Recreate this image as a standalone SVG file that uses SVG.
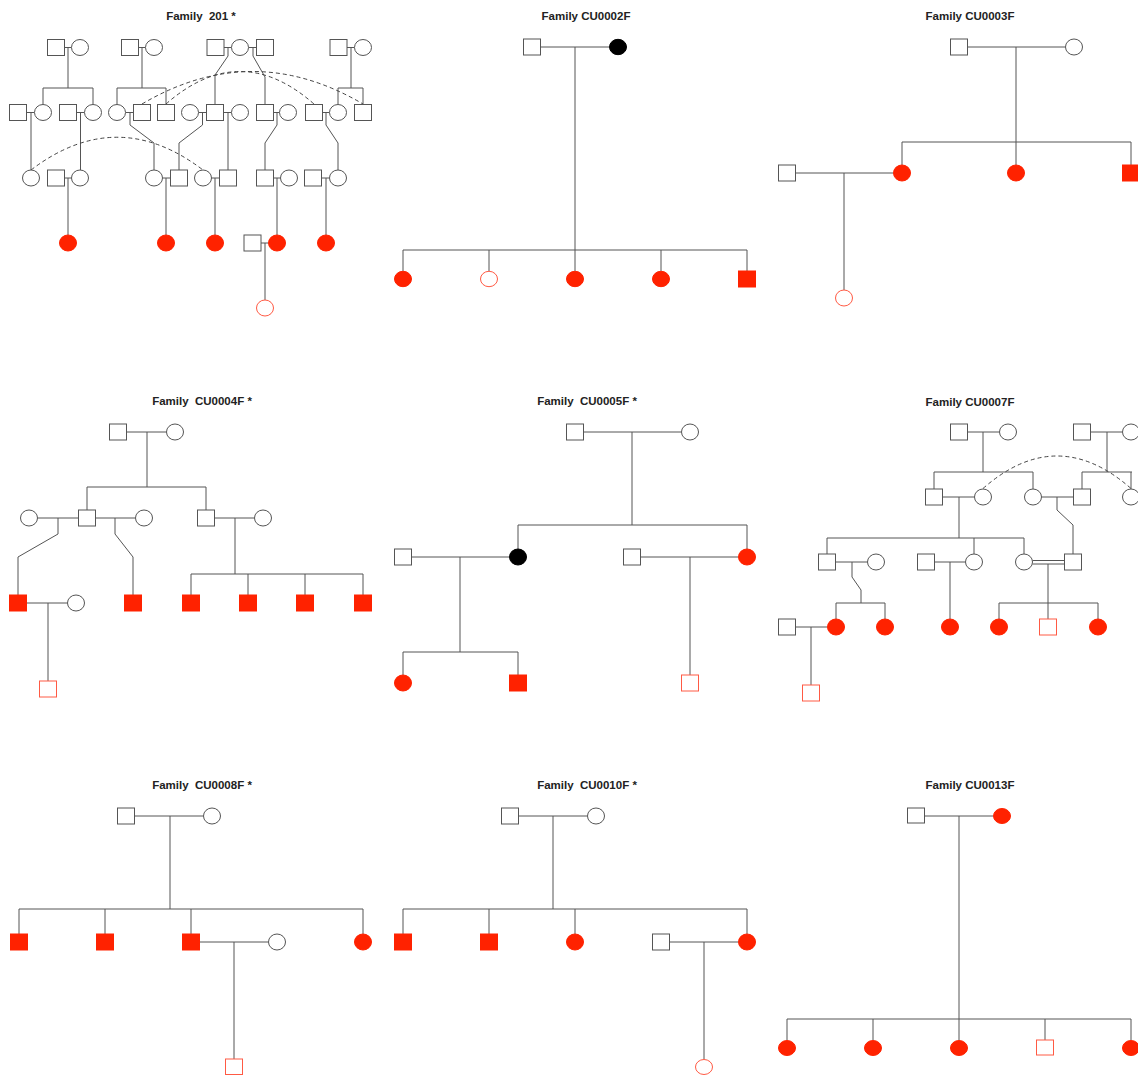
<svg xmlns="http://www.w3.org/2000/svg" width="1138" height="1075" viewBox="0 0 1138 1075">
<style>
.t{font-family:"Liberation Sans",Arial,sans-serif;font-weight:bold;font-size:11.5px;fill:#222;text-anchor:middle;white-space:pre}
.n{fill:#fff;stroke:#555;stroke-width:1}
.a{fill:#ff2200;stroke:#ff2200;stroke-width:1}
.p{fill:#fff;stroke:#ff5a44;stroke-width:1}
.k{fill:#000;stroke:#000;stroke-width:1}
.l{fill:none;stroke:#555;stroke-width:1}
.d{fill:none;stroke:#444;stroke-width:1;stroke-dasharray:4 3}
</style>
<rect width="1138" height="1075" fill="#fff"/>
<g id="titles">
<text class="t" x="201" y="20" xml:space="preserve">Family  201 *</text>
<text class="t" x="586" y="20">Family CU0002F</text>
<text class="t" x="970" y="20">Family CU0003F</text>
<text class="t" x="202" y="405" xml:space="preserve">Family  CU0004F *</text>
<text class="t" x="587" y="405" xml:space="preserve">Family  CU0005F *</text>
<text class="t" x="970" y="406">Family CU0007F</text>
<text class="t" x="202" y="789" xml:space="preserve">Family  CU0008F *</text>
<text class="t" x="587" y="789" xml:space="preserve">Family  CU0010F *</text>
<text class="t" x="970" y="789">Family CU0013F</text>
</g>
<g id="connectors">
<!-- Family 201 -->
<path class="l" d="M64.5 47.5H71.5M138.5 47.5H145.5M224 47.5H231.5M248.5 47.5H256.5M347 47.5H354.5
M68 47.5V88M142 47.5V88M351 47.5V88
M43 88H93M117 88H166M338 88H363
M43 88V104.5M93 88V104.5M117 88V104.5M166 88V104.5M338 88V104.5M363 88V104.5
M228 47.5V56L215 75V104.5M253 47.5V56L265 77V104.5
M26.5 112.5H34.5M76.5 112.5H84.5M125.5 112.5H133.5M198.5 112.5H206.5M223.5 112.5H231.5M273.5 112.5H279.5M322.5 112.5H329.5
M31 112.5V170M80.5 112.5V170
M130 112.5V125L154 143V170M202.5 112.5V125L179 143V170M228 112.5V170M277 112.5V125L265 143V170M326 112.5V125L338 143V170
M64.5 178H71.5M162.5 178H170.5M211.5 178H219.5M273.5 178H280.5M321.5 178H329.5
M68 178V235M166 178V235M215 178V235M277 178V235M326 178V235
M261 243H268.5M265 243V300"/>
<path class="d" d="M142 104Q252.5 39 363 104M166 104Q240 39 314 104M31 170Q117 104.5 203 170"/>
<!-- CU0002F -->
<path class="l" d="M540.5 47H609.5M575 47V250M403 250H747M403 250V271M489 250V271M575 250V271M661 250V271M747 250V271"/>
<!-- CU0003F -->
<path class="l" d="M967.5 47H1065.5M1016 47V142M902 142H1131M902 142V165M1016 142V165M1131 142V165M795.5 173H893.5M844 173V290"/>
<!-- CU0004F -->
<path class="l" d="M126.5 432H166.5M147 432V487M87 487H206M87 487V510M206 487V510
M37.5 518H78.5M95.5 518H135.5M214.5 518H254.5
M58 518V534L18 557V595M115 518V534L133 557V595M235 518V574M191 574H363M191 574V595M248 574V595M305 574V595M363 574V595
M26.5 603H67.5M48 603V681"/>
<!-- CU0005F -->
<path class="l" d="M583.5 432H681.5M632 432V525M518 525H747M518 525V549M747 525V549
M411.5 557H509.5M640.5 557H738.5M460 557V652M403 652H518M403 652V675M518 652V675M690 557V675"/>
<!-- CU0007F -->
<path class="l" d="M967.5 432H999.5M1090.5 432H1122.5M983 432V472M1107 432V472M934 472H1033M1082 472H1132
M934 472V489M1033 472V489M1082 472V489M1131 472V489
M942.5 497H974.5M1041.5 497H1073.5M959 497V538M827 538H1024M827 538V554M974 538V554M1024 538V554
M1057 497V510L1073 525V554
M835.5 562H867.5M934.5 562H965.5M1032.5 560.5H1064.5M1032.5 564H1064.5
M852 562V577L861 590V603M836 603H885M836 603V619M885 603V619M950 562V619
M1048 564V603M999 603H1098M999 603V619M1048 603V619M1098 603V619
M795.5 627H827.5M811 627V685"/>
<path class="d" d="M983 488.5Q1057 423.5 1131 488.5"/>
<!-- CU0008F -->
<path class="l" d="M134.5 816H203.5M170 816V909M19 909H363M19 909V934M105 909V934M191 909V934M363 909V934M199.5 942H268.5M234 942V1059"/>
<!-- CU0010F -->
<path class="l" d="M518.5 816H587.5M553 816V909M403 909H747M403 909V934M489 909V934M575 909V934M747 909V934M669.5 942H738.5M704 942V1059"/>
<!-- CU0013F -->
<path class="l" d="M924.5 816H993.5M959 816V1019M787 1019H1131M787 1019V1040M873 1019V1040M959 1019V1040M1045 1019V1040M1131 1019V1040"/>
</g>
<!-- Family 201 nodes -->
<g id="f201">
<g id="f201-1"><rect class="n" x="47.5" y="39.5" width="17" height="16"/></g>
<g id="f201-2"><ellipse class="n" cx="80" cy="47.5" rx="8.5" ry="8"/></g>
<g id="f201-3"><rect class="n" x="121.5" y="39.5" width="17" height="16"/></g>
<g id="f201-4"><ellipse class="n" cx="154" cy="47.5" rx="8.5" ry="8"/></g>
<g id="f201-5"><rect class="n" x="207" y="39.5" width="17" height="16"/></g>
<g id="f201-6"><ellipse class="n" cx="240" cy="47.5" rx="8.5" ry="8"/></g>
<g id="f201-7"><rect class="n" x="256.5" y="39.5" width="17" height="16"/></g>
<g id="f201-8"><rect class="n" x="330" y="39.5" width="17" height="16"/></g>
<g id="f201-9"><ellipse class="n" cx="363" cy="47.5" rx="8.5" ry="8"/></g>
<g id="f201-10"><rect class="n" x="9.5" y="104.5" width="17" height="16"/></g>
<g id="f201-11"><ellipse class="n" cx="43" cy="112.5" rx="8.5" ry="8"/></g>
<g id="f201-12"><rect class="n" x="59.5" y="104.5" width="17" height="16"/></g>
<g id="f201-13"><ellipse class="n" cx="93" cy="112.5" rx="8.5" ry="8"/></g>
<g id="f201-14"><ellipse class="n" cx="117" cy="112.5" rx="8.5" ry="8"/></g>
<g id="f201-15"><rect class="n" x="133.5" y="104.5" width="17" height="16"/></g>
<g id="f201-16"><rect class="n" x="157.5" y="104.5" width="17" height="16"/></g>
<g id="f201-17"><ellipse class="n" cx="190" cy="112.5" rx="8.5" ry="8"/></g>
<g id="f201-18"><rect class="n" x="206.5" y="104.5" width="17" height="16"/></g>
<g id="f201-19"><ellipse class="n" cx="240" cy="112.5" rx="8.5" ry="8"/></g>
<g id="f201-20"><rect class="n" x="256.5" y="104.5" width="17" height="16"/></g>
<g id="f201-21"><ellipse class="n" cx="288" cy="112.5" rx="8.5" ry="8"/></g>
<g id="f201-22"><rect class="n" x="305.5" y="104.5" width="17" height="16"/></g>
<g id="f201-23"><ellipse class="n" cx="338" cy="112.5" rx="8.5" ry="8"/></g>
<g id="f201-24"><rect class="n" x="354.5" y="104.5" width="17" height="16"/></g>
<g id="f201-25"><ellipse class="n" cx="31" cy="178" rx="8.5" ry="8"/></g>
<g id="f201-26"><rect class="n" x="47.5" y="170" width="17" height="16"/></g>
<g id="f201-27"><ellipse class="n" cx="80" cy="178" rx="8.5" ry="8"/></g>
<g id="f201-28"><ellipse class="n" cx="154" cy="178" rx="8.5" ry="8"/></g>
<g id="f201-29"><rect class="n" x="170.5" y="170" width="17" height="16"/></g>
<g id="f201-30"><ellipse class="n" cx="203" cy="178" rx="8.5" ry="8"/></g>
<g id="f201-31"><rect class="n" x="219.5" y="170" width="17" height="16"/></g>
<g id="f201-32"><rect class="n" x="256.5" y="170" width="17" height="16"/></g>
<g id="f201-33"><ellipse class="n" cx="289" cy="178" rx="8.5" ry="8"/></g>
<g id="f201-34"><rect class="n" x="304.5" y="170" width="17" height="16"/></g>
<g id="f201-35"><ellipse class="n" cx="338" cy="178" rx="8.5" ry="8"/></g>
<g id="f201-36"><ellipse class="a" cx="68" cy="243" rx="8.5" ry="8"/></g>
<g id="f201-37"><ellipse class="a" cx="166" cy="243" rx="8.5" ry="8"/></g>
<g id="f201-38"><ellipse class="a" cx="215" cy="243" rx="8.5" ry="8"/></g>
<g id="f201-39"><rect class="n" x="244" y="235" width="17" height="16"/></g>
<g id="f201-40"><ellipse class="a" cx="277" cy="243" rx="8.5" ry="8"/></g>
<g id="f201-41"><ellipse class="a" cx="326" cy="243" rx="8.5" ry="8"/></g>
<g id="f201-42"><ellipse class="p" cx="265" cy="308" rx="8.5" ry="8"/></g>
</g>
<!-- CU0002F -->
<g id="cu2">
<g id="cu2-1"><rect class="n" x="523.5" y="39" width="17" height="16"/></g>
<g id="cu2-2"><ellipse class="k" cx="618" cy="47" rx="8.5" ry="7.7"/></g>
<g id="cu2-3"><ellipse class="a" cx="403" cy="279" rx="8.5" ry="7.7"/></g>
<g id="cu2-4"><ellipse class="p" cx="489" cy="279" rx="8.5" ry="7.7"/></g>
<g id="cu2-5"><ellipse class="a" cx="575" cy="279" rx="8.5" ry="7.7"/></g>
<g id="cu2-6"><ellipse class="a" cx="661" cy="279" rx="8.5" ry="7.7"/></g>
<g id="cu2-7"><rect class="a" x="738.5" y="271" width="17" height="16"/></g>
</g>
<!-- CU0003F -->
<g id="cu3">
<g id="cu3-1"><rect class="n" x="950.5" y="39" width="17" height="16"/></g>
<g id="cu3-2"><ellipse class="n" cx="1074" cy="47" rx="8.5" ry="8"/></g>
<g id="cu3-3"><rect class="n" x="778.5" y="165" width="17" height="16"/></g>
<g id="cu3-4"><ellipse class="a" cx="902" cy="173" rx="8.5" ry="8"/></g>
<g id="cu3-5"><ellipse class="a" cx="1016" cy="173" rx="8.5" ry="8"/></g>
<g id="cu3-6"><rect class="a" x="1122.5" y="165" width="17" height="16"/></g>
<g id="cu3-7"><ellipse class="p" cx="844" cy="298" rx="8.5" ry="8"/></g>
</g>
<!-- CU0004F -->
<g id="cu4">
<g id="cu4-1"><rect class="n" x="109.5" y="424" width="17" height="16"/></g>
<g id="cu4-2"><ellipse class="n" cx="175" cy="432" rx="8.5" ry="8"/></g>
<g id="cu4-3"><ellipse class="n" cx="29" cy="518" rx="8.5" ry="8"/></g>
<g id="cu4-4"><rect class="n" x="78.5" y="510" width="17" height="16"/></g>
<g id="cu4-5"><ellipse class="n" cx="144" cy="518" rx="8.5" ry="8"/></g>
<g id="cu4-6"><rect class="n" x="197.5" y="510" width="17" height="16"/></g>
<g id="cu4-7"><ellipse class="n" cx="263" cy="518" rx="8.5" ry="8"/></g>
<g id="cu4-8"><rect class="a" x="9.5" y="595" width="17" height="16"/></g>
<g id="cu4-9"><ellipse class="n" cx="76" cy="603" rx="8.5" ry="8"/></g>
<g id="cu4-10"><rect class="a" x="124.5" y="595" width="17" height="16"/></g>
<g id="cu4-11"><rect class="a" x="182.5" y="595" width="17" height="16"/></g>
<g id="cu4-12"><rect class="a" x="239.5" y="595" width="17" height="16"/></g>
<g id="cu4-13"><rect class="a" x="296.5" y="595" width="17" height="16"/></g>
<g id="cu4-14"><rect class="a" x="354.5" y="595" width="17" height="16"/></g>
<g id="cu4-15"><rect class="p" x="39.5" y="681" width="17" height="16"/></g>
</g>
<!-- CU0005F -->
<g id="cu5">
<g id="cu5-1"><rect class="n" x="566.5" y="424" width="17" height="16"/></g>
<g id="cu5-2"><ellipse class="n" cx="690" cy="432" rx="8.5" ry="8"/></g>
<g id="cu5-3"><rect class="n" x="394.5" y="549" width="17" height="16"/></g>
<g id="cu5-4"><ellipse class="k" cx="518" cy="557" rx="8.5" ry="8"/></g>
<g id="cu5-5"><rect class="n" x="623.5" y="549" width="17" height="16"/></g>
<g id="cu5-6"><ellipse class="a" cx="747" cy="557" rx="8.5" ry="8"/></g>
<g id="cu5-7"><ellipse class="a" cx="403" cy="683" rx="8.5" ry="8"/></g>
<g id="cu5-8"><rect class="a" x="509.5" y="675" width="17" height="16"/></g>
<g id="cu5-9"><rect class="p" x="681.5" y="675" width="17" height="16"/></g>
</g>
<!-- CU0007F -->
<g id="cu7">
<g id="cu7-1"><rect class="n" x="950.5" y="424" width="17" height="16"/></g>
<g id="cu7-2"><ellipse class="n" cx="1008" cy="432" rx="8.5" ry="8"/></g>
<g id="cu7-3"><rect class="n" x="1073.5" y="424" width="17" height="16"/></g>
<g id="cu7-4"><ellipse class="n" cx="1131" cy="432" rx="8.5" ry="8"/></g>
<g id="cu7-5"><rect class="n" x="925.5" y="489" width="17" height="16"/></g>
<g id="cu7-6"><ellipse class="n" cx="983" cy="497" rx="8.5" ry="8"/></g>
<g id="cu7-7"><ellipse class="n" cx="1033" cy="497" rx="8.5" ry="8"/></g>
<g id="cu7-8"><rect class="n" x="1073.5" y="489" width="17" height="16"/></g>
<g id="cu7-9"><ellipse class="n" cx="1131" cy="497" rx="8.5" ry="8"/></g>
<g id="cu7-10"><rect class="n" x="818.5" y="554" width="17" height="16"/></g>
<g id="cu7-11"><ellipse class="n" cx="876" cy="562" rx="8.5" ry="8"/></g>
<g id="cu7-12"><rect class="n" x="917.5" y="554" width="17" height="16"/></g>
<g id="cu7-13"><ellipse class="n" cx="974" cy="562" rx="8.5" ry="8"/></g>
<g id="cu7-14"><ellipse class="n" cx="1024" cy="562" rx="8.5" ry="8"/></g>
<g id="cu7-15"><rect class="n" x="1064.5" y="554" width="17" height="16"/></g>
<g id="cu7-16"><rect class="n" x="778.5" y="619" width="17" height="16"/></g>
<g id="cu7-17"><ellipse class="a" cx="836" cy="627" rx="8.5" ry="8"/></g>
<g id="cu7-18"><ellipse class="a" cx="885" cy="627" rx="8.5" ry="8"/></g>
<g id="cu7-19"><ellipse class="a" cx="950" cy="627" rx="8.5" ry="8"/></g>
<g id="cu7-20"><ellipse class="a" cx="999" cy="627" rx="8.5" ry="8"/></g>
<g id="cu7-21"><rect class="p" x="1039.5" y="619" width="17" height="16"/></g>
<g id="cu7-22"><ellipse class="a" cx="1098" cy="627" rx="8.5" ry="8"/></g>
<g id="cu7-23"><rect class="p" x="802.5" y="685" width="17" height="16"/></g>
</g>
<!-- CU0008F -->
<g id="cu8">
<g id="cu8-1"><rect class="n" x="117.5" y="808" width="17" height="16"/></g>
<g id="cu8-2"><ellipse class="n" cx="212" cy="816" rx="8.5" ry="8"/></g>
<g id="cu8-3"><rect class="a" x="10.5" y="934" width="17" height="16"/></g>
<g id="cu8-4"><rect class="a" x="96.5" y="934" width="17" height="16"/></g>
<g id="cu8-5"><rect class="a" x="182.5" y="934" width="17" height="16"/></g>
<g id="cu8-6"><ellipse class="n" cx="277" cy="942" rx="8.5" ry="8"/></g>
<g id="cu8-7"><ellipse class="a" cx="363" cy="942" rx="8.5" ry="8"/></g>
<g id="cu8-8"><rect class="p" x="225.5" y="1059" width="17" height="15.5"/></g>
</g>
<!-- CU0010F -->
<g id="cu10">
<g id="cu10-1"><rect class="n" x="501.5" y="808" width="17" height="16"/></g>
<g id="cu10-2"><ellipse class="n" cx="596" cy="816" rx="8.5" ry="8"/></g>
<g id="cu10-3"><rect class="a" x="394.5" y="934" width="17" height="16"/></g>
<g id="cu10-4"><rect class="a" x="480.5" y="934" width="17" height="16"/></g>
<g id="cu10-5"><ellipse class="a" cx="575" cy="942" rx="8.5" ry="8"/></g>
<g id="cu10-6"><rect class="n" x="652.5" y="934" width="17" height="16"/></g>
<g id="cu10-7"><ellipse class="a" cx="747" cy="942" rx="8.5" ry="8"/></g>
<g id="cu10-8"><ellipse class="p" cx="704" cy="1067" rx="8.5" ry="7.5"/></g>
</g>
<!-- CU0013F -->
<g id="cu13">
<g id="cu13-1"><rect class="n" x="907.5" y="808" width="17" height="15"/></g>
<g id="cu13-2"><ellipse class="a" cx="1002" cy="816" rx="8.5" ry="7.5"/></g>
<g id="cu13-3"><ellipse class="a" cx="787" cy="1048" rx="8.5" ry="7.5"/></g>
<g id="cu13-4"><ellipse class="a" cx="873" cy="1048" rx="8.5" ry="7.5"/></g>
<g id="cu13-5"><ellipse class="a" cx="959" cy="1048" rx="8.5" ry="7.5"/></g>
<g id="cu13-6"><rect class="p" x="1036.5" y="1040" width="17" height="15"/></g>
<g id="cu13-7"><ellipse class="a" cx="1131" cy="1048" rx="8.5" ry="7.5"/></g>
</g>
</svg>
